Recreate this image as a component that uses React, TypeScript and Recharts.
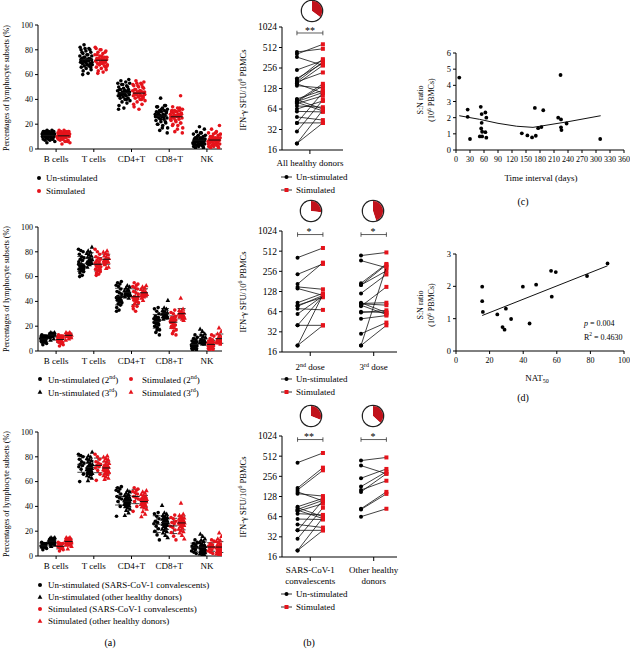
import React from 'react';
import { ScatterChart, Scatter, XAxis, YAxis, ErrorBar, ReferenceLine, PieChart, Pie, Cell } from 'recharts';

const FONT = '"Liberation Serif", "DejaVu Serif", serif';
const RED = '#e5131b';
const PIE_RED = '#c1121b';

// ---- (a) lymphocyte subsets, % ----
// index 0-11: SARS-CoV-1 convalescents, 12+: other healthy donors; 0-24: 2nd dose, 25+: 3rd dose
const subsets = ['B cells', 'T cells', 'CD4+T', 'CD8+T', 'NK'];

const bUn = [5, 6, 7, 7, 8, 8, 8, 9, 9, 10, 10, 11, 8, 9, 10, 10, 11, 11, 11, 12, 12, 12, 12, 12, 13, 13, 13, 13, 13, 14, 14, 14, 14, 15, 15, 12, 11, 10, 13, 12, 14, 9];
const bSt = [4, 5, 6, 7, 7, 8, 8, 9, 9, 10, 10, 11, 6, 8, 9, 10, 10, 11, 11, 11, 12, 12, 12, 12, 13, 13, 13, 13, 14, 14, 14, 15, 15, 12, 11, 10, 13, 12, 14, 9, 11, 12];
const tUn = [60, 66, 70, 72, 73, 74, 75, 76, 78, 80, 81, 82, 61, 63, 64, 65, 66, 67, 67, 68, 68, 69, 69, 70, 70, 71, 71, 72, 72, 73, 73, 74, 75, 76, 77, 78, 79, 80, 81, 84, 70, 68];
const tSt = [61, 66, 69, 71, 72, 73, 74, 75, 76, 78, 80, 82, 62, 63, 64, 65, 66, 67, 68, 68, 69, 69, 70, 70, 71, 71, 72, 72, 73, 73, 74, 75, 76, 77, 78, 79, 80, 81, 70, 68, 67, 72];
const cd4Un = [32, 40, 44, 46, 47, 48, 50, 52, 53, 54, 55, 56, 33, 35, 37, 38, 39, 40, 41, 41, 42, 43, 43, 44, 44, 45, 45, 46, 46, 47, 47, 48, 48, 49, 50, 51, 52, 53, 44, 43, 46, 45];
const cd4St = [36, 40, 44, 46, 47, 48, 50, 51, 52, 53, 55, 54, 32, 34, 36, 38, 39, 40, 41, 42, 42, 43, 43, 44, 44, 45, 45, 46, 46, 47, 47, 48, 49, 50, 51, 52, 53, 44, 43, 45, 41, 46];
const cd8Un = [13, 17, 20, 22, 24, 26, 27, 28, 30, 32, 34, 35, 15, 17, 19, 20, 21, 22, 23, 24, 25, 25, 26, 26, 27, 27, 28, 28, 29, 29, 30, 30, 31, 31, 32, 33, 34, 35, 41, 27, 26, 28];
const cd8St = [13, 16, 19, 21, 23, 24, 26, 27, 28, 30, 31, 33, 14, 17, 19, 20, 21, 22, 23, 24, 25, 25, 26, 26, 27, 27, 28, 28, 29, 29, 30, 30, 31, 31, 32, 33, 34, 43, 27, 26, 28, 25];
const nkUn = [2, 3, 4, 5, 6, 7, 7, 8, 9, 10, 11, 13, 1, 1, 2, 2, 3, 3, 4, 4, 4, 5, 5, 5, 6, 6, 6, 7, 7, 7, 8, 8, 9, 9, 10, 11, 12, 13, 14, 16, 18, 6];
const nkSt = [2, 3, 4, 5, 6, 7, 8, 8, 9, 10, 12, 13, 1, 1, 2, 2, 3, 3, 4, 4, 5, 5, 5, 6, 6, 6, 7, 7, 7, 8, 8, 9, 9, 10, 11, 12, 13, 14, 16, 19, 7, 6];

const unstimSets = [bUn, tUn, cd4Un, cd8Un, nkUn];
const stimSets = [bSt, tSt, cd4St, cd8St, nkSt];
const SARS_N = 12;
const DOSE2_N = 25;
const ALL_N = 42;

// ---- (b) IFN-γ SFU / 10^6 PBMCs, paired ----
const sarsUn = [410, 171, 160, 150, 141, 90, 87, 82, 80, 77, 71, 59, 49, 40, 40, 30, 20, 20];
const sarsSt = [571, 345, 315, 110, 130, 120, 64, 112, 60, 100, 68, 58, 44, 40, 112, 87, 62, 40];
const otherUn = [440, 370, 240, 180, 160, 150, 84, 82, 64];
const otherSt = [490, 280, 330, 300, 220, 280, 150, 140, 84];
const dose2Un = [410, 231, 165, 150, 142, 87, 80, 77, 71, 59, 40, 40, 20, 20];
const dose2St = [571, 330, 345, 138, 112, 120, 105, 112, 68, 110, 40, 110, 40, 115];
const dose3Un = [440, 370, 170, 160, 160, 120, 87, 85, 84, 80, 77, 64, 62, 50, 30, 20, 20];
const dose3St = [490, 290, 330, 320, 260, 230, 62, 87, 80, 58, 150, 62, 67, 56, 44, 300, 40];
const logTicks = [16, 32, 64, 128, 256, 512, 1024];

// pie fractions (responders)
const pieAll = [0.35];
const pieDose = [0.27, 0.45];
const pieCohort = [0.31, 0.37];

// ---- (c) S:N ratio vs time interval ----
const cDays = [7, 25, 25, 30, 53, 55, 55, 54, 56, 51, 56, 63, 65, 63, 65, 141, 153, 163, 169, 171, 176, 183, 187, 219, 224, 225, 225, 226, 237, 309];
const cRatio = [4.48, 2.5, 2.05, 0.68, 2.67, 2.22, 1.68, 1.33, 1.13, 0.84, 0.84, 2.32, 2.0, 1.1, 0.76, 1.03, 0.9, 0.78, 2.6, 0.88, 1.35, 1.42, 2.46, 2.0, 4.64, 1.89, 1.4, 1.23, 1.64, 0.68];
const cFitDays = [7, 50, 90, 130, 165, 240, 310];
const cFitRatio = [2.12, 1.9, 1.65, 1.47, 1.4, 1.75, 2.12];
const cDayTicks = [0, 30, 60, 90, 120, 150, 180, 210, 240, 270, 300, 330, 360];

// ---- (d) S:N ratio vs NAT50 ----
const dNat = [15.6, 15.6, 16, 24.6, 27.7, 28.9, 29.7, 32.8, 39.8, 43.8, 47.7, 56.6, 57, 59.4, 78, 90.2];
const dRatio = [1.99, 1.54, 1.21, 1.13, 0.74, 0.66, 1.31, 0.99, 1.99, 0.85, 2.05, 2.48, 1.68, 2.44, 2.32, 2.71];

// horizontal jitter offset in [-0.5, 0.5), low-discrepancy so neighbours spread apart
const jit = (i: number) => ((i * 0.6180339 + 0.37) % 1) - 0.5;

const tickStyle = (size: number) => ({ fontSize: size, fill: '#000', fontFamily: FONT });
const axisLine = { stroke: '#000', strokeWidth: 1 };

const dotShape = (fill: string, r = 1.8) => (p: any) => <circle cx={p.cx} cy={p.cy} r={r} fill={fill} />;
const triShape = (fill: string, s = 2.3) => (p: any) => (
  <path d={`M${p.cx},${p.cy - s}L${p.cx + s},${p.cy + s * 0.85}L${p.cx - s},${p.cy + s * 0.85}Z`} fill={fill} />
);
const meanShape = (half: number) => (p: any) => (
  <line x1={p.cx - half} x2={p.cx + half} y1={p.cy} y2={p.cy} stroke="#111" strokeWidth={1} />
);
const pairShape = (p: any) =>
  p.payload.kind === 'u' ? (
    <circle cx={p.cx} cy={p.cy} r={2} fill="#000" />
  ) : (
    <rect x={p.cx - 2} y={p.cy - 2} width={4} height={4} fill={RED} />
  );

type Group = { off: number; color: string; tri?: boolean; from: number; to: number; sets: number[][] };

function groupPoints(g: Group, spread: number) {
  const pts: { x: number; y: number }[] = [];
  g.sets.forEach((vals, k) => {
    vals.slice(g.from, g.to).forEach((v, i) => pts.push({ x: k + 1 + g.off + jit(i + 3 * k) * spread, y: v }));
  });
  return pts;
}

function groupStats(g: Group) {
  return g.sets.map((vals, k) => {
    const v = vals.slice(g.from, g.to);
    const m = v.reduce((s, a) => s + a, 0) / v.length;
    const sd = Math.sqrt(v.reduce((s, a) => s + (a - m) * (a - m), 0) / (v.length - 1));
    return { x: k + 1 + g.off, y: m, sd };
  });
}

function Txt({ x, y, children, size = 9, center = false, style }: any) {
  return (
    <div
      style={{
        position: 'absolute',
        left: x,
        top: y,
        transform: center ? 'translate(-50%, -50%)' : 'translateY(-50%)',
        fontSize: size,
        whiteSpace: 'nowrap',
        lineHeight: 1,
        ...style,
      }}
    >
      {children}
    </div>
  );
}

function YLabel({ x, y, children, size = 8 }: any) {
  return (
    <div
      style={{
        position: 'absolute',
        left: x,
        top: y,
        transform: 'translate(-50%, -50%) rotate(-90deg)',
        fontSize: size,
        whiteSpace: 'nowrap',
        lineHeight: 1.2,
        textAlign: 'center',
      }}
    >
      {children}
    </div>
  );
}

function DotPanel({ plotTop, groups, spread, sd, half }: { plotTop: number; groups: Group[]; spread: number; sd: boolean; half: number }) {
  const left = 12, right = 222, mt = 8, plotH = 124, xh = 22;
  return (
    <div style={{ position: 'absolute', left, top: plotTop - mt }}>
      <ScatterChart width={right - left + 4} height={mt + plotH + xh} margin={{ top: mt, right: 4, bottom: 0, left: 0 }}>
        <XAxis
          type="number"
          dataKey="x"
          domain={[0.52, 5.4]}
          ticks={[1, 2, 3, 4, 5]}
          interval={0}
          tickFormatter={(v: number) => subsets[Math.round(v) - 1]}
          tick={tickStyle(9)}
          tickLine={axisLine}
          axisLine={axisLine}
          tickSize={3}
          tickMargin={4}
          height={xh}
          allowDataOverflow
        />
        <YAxis
          type="number"
          dataKey="y"
          domain={[0, 100]}
          ticks={[0, 20, 40, 60, 80, 100]}
          interval={0}
          tick={tickStyle(8)}
          tickLine={axisLine}
          axisLine={axisLine}
          tickSize={3}
          width={26}
          allowDataOverflow
        />
        {groups.map((g, gi) => (
          <Scatter
            key={'p' + gi}
            data={groupPoints(g, spread)}
            shape={g.tri ? triShape(g.color) : dotShape(g.color)}
            isAnimationActive={false}
          />
        ))}
        {groups.map((g, gi) => (
          <Scatter key={'m' + gi} data={groupStats(g)} shape={meanShape(half)} isAnimationActive={false}>
            {sd && <ErrorBar dataKey="sd" direction="y" width={4} stroke="#111" strokeWidth={0.8} isAnimationActive={false} />}
          </Scatter>
        ))}
      </ScatterChart>
    </div>
  );
}

type PairSet = { u: number[]; s: number[] };

function PairPanel({
  plotTop,
  plotRight,
  plotH,
  domain,
  sets,
  labels,
  brackets,
  xh,
}: {
  plotTop: number;
  plotRight: number;
  plotH: number;
  domain: [number, number];
  sets: PairSet[];
  labels: (x: number, y: number, k: number) => React.ReactNode;
  brackets: number[];
  xh: number;
}) {
  const plotLeft = 282, yw = 28, mt = 8;
  const left = plotLeft - yw;
  const ticks = sets.map((_, k) => k + 1);
  const Tick = (p: any) => labels(p.x, p.y, Math.round(p.payload.value) - 1) as any;
  return (
    <div style={{ position: 'absolute', left, top: plotTop - mt }}>
      <ScatterChart width={plotRight - left + 4} height={mt + plotH + xh} margin={{ top: mt, right: 4, bottom: 0, left: 0 }}>
        <XAxis
          type="number"
          dataKey="x"
          domain={domain}
          ticks={ticks}
          interval={0}
          tick={Tick}
          tickLine={axisLine}
          axisLine={axisLine}
          tickSize={4}
          tickMargin={5}
          height={xh}
          allowDataOverflow
        />
        <YAxis
          type="number"
          dataKey="y"
          scale="log"
          domain={[16, 1024]}
          ticks={logTicks}
          interval={0}
          tick={tickStyle(9.5)}
          tickLine={axisLine}
          axisLine={axisLine}
          tickSize={3}
          width={yw}
          allowDataOverflow
        />
        {sets.map((set, k) =>
          set.u.map((u, i) => (
            <Scatter
              key={k + '-' + i}
              data={[
                { x: k + 1 - 0.2, y: u, kind: 'u' },
                { x: k + 1 + 0.2, y: set.s[i], kind: 's' },
              ]}
              line={{ stroke: '#111', strokeWidth: 0.8 }}
              shape={pairShape}
              isAnimationActive={false}
            />
          ))
        )}
        {sets.map((_, k) => {
          const b = brackets[k];
          const x0 = k + 1 - 0.2, x1 = k + 1 + 0.2;
          return [
            <ReferenceLine key={'h' + k} segment={[{ x: x0, y: b }, { x: x1, y: b }]} stroke="#333" strokeWidth={0.8} />,
            <ReferenceLine key={'l' + k} segment={[{ x: x0, y: b * 1.08 }, { x: x0, y: b / 1.08 }]} stroke="#333" strokeWidth={0.8} />,
            <ReferenceLine key={'r' + k} segment={[{ x: x1, y: b * 1.08 }, { x: x1, y: b / 1.08 }]} stroke="#333" strokeWidth={0.8} />,
          ];
        })}
      </ScatterChart>
    </div>
  );
}

function MiniPie({ cx, cy, frac }: { cx: number; cy: number; frac: number }) {
  const r = 10;
  return (
    <div style={{ position: 'absolute', left: cx - r, top: cy - r, width: 2 * r, height: 2 * r, borderRadius: '50%', boxShadow: '0 0 0 1.3px #222' }}>
      <PieChart width={2 * r} height={2 * r} margin={{ top: 0, right: 0, bottom: 0, left: 0 }}>
        <Pie
          data={[{ v: frac }, { v: 1 - frac }]}
          dataKey="v"
          cx={r}
          cy={r}
          outerRadius={r}
          startAngle={90}
          endAngle={-270}
          stroke="none"
          isAnimationActive={false}
        >
          <Cell fill={PIE_RED} />
          <Cell fill="#fff" />
        </Pie>
      </PieChart>
    </div>
  );
}

function PairLegend({ y }: { y: number }) {
  return (
    <>
      <svg style={{ position: 'absolute', left: 281, top: y - 4 }} width={12} height={22}>
        <line x1={0} x2={11} y1={4} y2={4} stroke="#000" strokeWidth={0.8} />
        <circle cx={5.5} cy={4} r={2} fill="#000" />
        <line x1={0} x2={11} y1={17} y2={17} stroke="#000" strokeWidth={0.8} />
        <rect x={3.5} y={15} width={4} height={4} fill={RED} />
      </svg>
      <Txt x={296} y={y}>Un-stimulated</Txt>
      <Txt x={296} y={y + 13}>Stimulated</Txt>
    </>
  );
}

function Marker({ x, y, color, tri }: { x: number; y: number; color: string; tri?: boolean }) {
  return (
    <svg style={{ position: 'absolute', left: x - 3, top: y - 3 }} width={6} height={6}>
      {tri ? <path d="M3,0.6L5.4,4.8L0.6,4.8Z" fill={color} /> : <circle cx={3} cy={3} r={2} fill={color} />}
    </svg>
  );
}

const plainTick = (lines: string[]) => (x: number, y: number, k: number) => (
  <text x={x} y={y} textAnchor="middle" fontSize={9} fontFamily={FONT} fill="#000">
    <tspan x={x} dy="0.8em">{lines[k]}</tspan>
  </text>
);

const doseNum = ['2', '3'];
const doseSup = ['nd', 'rd'];
const doseTick = (x: number, y: number, k: number) => (
  <text x={x} y={y} textAnchor="middle" fontSize={9} fontFamily={FONT} fill="#000">
    <tspan x={x} dy="1em">{doseNum[k]}</tspan>
    <tspan dy={-3} fontSize={6}>{doseSup[k]}</tspan>
    <tspan dy={3}> dose</tspan>
  </text>
);

const cohortLines = [
  ['SARS-CoV-1', 'convalescents'],
  ['Other healthy', 'donors'],
];
const cohortTick = (x: number, y: number, k: number) => (
  <text x={x} y={y} textAnchor="middle" fontSize={9} fontFamily={FONT} fill="#000">
    <tspan x={x} dy="0.8em">{cohortLines[k][0]}</tspan>
    <tspan x={x} dy="1.15em">{cohortLines[k][1]}</tspan>
  </text>
);

export default function App() {
  const cPts = cDays.map((d, i) => ({ x: d, y: cRatio[i] }));
  const cFit = cFitDays.map((d, i) => ({ x: d, y: cFitRatio[i] }));
  const dPts = dNat.map((n, i) => ({ x: n, y: dRatio[i] }));

  const a1: Group[] = [
    { off: -0.2, color: '#000', from: 0, to: ALL_N, sets: unstimSets },
    { off: 0.2, color: RED, from: 0, to: ALL_N, sets: stimSets },
  ];
  const a2: Group[] = [
    { off: -0.33, color: '#000', from: 0, to: DOSE2_N, sets: unstimSets },
    { off: -0.11, color: '#000', tri: true, from: DOSE2_N, to: ALL_N, sets: unstimSets },
    { off: 0.11, color: RED, from: 0, to: DOSE2_N, sets: stimSets },
    { off: 0.33, color: RED, tri: true, from: DOSE2_N, to: ALL_N, sets: stimSets },
  ];
  const a3: Group[] = [
    { off: -0.33, color: '#000', from: 0, to: SARS_N, sets: unstimSets },
    { off: -0.11, color: '#000', tri: true, from: SARS_N, to: ALL_N, sets: unstimSets },
    { off: 0.11, color: RED, from: 0, to: SARS_N, sets: stimSets },
    { off: 0.33, color: RED, tri: true, from: SARS_N, to: ALL_N, sets: stimSets },
  ];

  const scatterAxes = (xd: [number, number], xt: number[], yd: [number, number], yt: number[]) => [
    <XAxis
      key="x"
      type="number"
      dataKey="x"
      domain={xd}
      ticks={xt}
      interval={0}
      tick={tickStyle(8)}
      tickLine={axisLine}
      axisLine={axisLine}
      tickSize={3}
      tickMargin={3}
      height={20}
      allowDataOverflow
    />,
    <YAxis
      key="y"
      type="number"
      dataKey="y"
      domain={yd}
      ticks={yt}
      interval={0}
      tick={tickStyle(8.5)}
      tickLine={axisLine}
      axisLine={axisLine}
      tickSize={3}
      width={20}
      allowDataOverflow
    />,
  ];

  return (
    <div
      style={{
        position: 'absolute',
        left: 0,
        top: 0,
        width: 632,
        height: 649,
        background: '#fff',
        fontFamily: FONT,
        color: '#000',
        overflow: 'hidden',
      }}
    >
      {/* ---------- column (a) ---------- */}
      <DotPanel plotTop={25} groups={a1} spread={0.34} sd={false} half={6} />
      <YLabel x={7} y={88}>Percentages of lymphocyte subsets (%)</YLabel>
      <Marker x={39} y={178} color="#000" />
      <Txt x={46} y={178}>Un-stimulated</Txt>
      <Marker x={39} y={191} color={RED} />
      <Txt x={46} y={191}>Stimulated</Txt>

      <DotPanel plotTop={227} groups={a2} spread={0.16} sd half={4} />
      <YLabel x={7} y={289}>Percentages of lymphocyte subsets (%)</YLabel>
      <Marker x={40} y={379} color="#000" />
      <Txt x={48} y={379}>Un-stimulated (2<sup style={{ fontSize: 6 }}>nd</sup>)</Txt>
      <Marker x={40} y={392} color="#000" tri />
      <Txt x={48} y={392}>Un-stimulated (3<sup style={{ fontSize: 6 }}>rd</sup>)</Txt>
      <Marker x={131} y={379} color={RED} />
      <Txt x={142} y={379}>Stimulated (2<sup style={{ fontSize: 6 }}>nd</sup>)</Txt>
      <Marker x={131} y={392} color={RED} tri />
      <Txt x={142} y={392}>Stimulated (3<sup style={{ fontSize: 6 }}>rd</sup>)</Txt>

      <DotPanel plotTop={432} groups={a3} spread={0.16} sd half={4} />
      <YLabel x={7} y={494}>Percentages of lymphocyte subsets (%)</YLabel>
      <Marker x={40} y={585} color="#000" />
      <Txt x={48} y={585}>Un-stimulated (SARS-CoV-1 convalescents)</Txt>
      <Marker x={40} y={597} color="#000" tri />
      <Txt x={48} y={597}>Un-stimulated (other healthy donors)</Txt>
      <Marker x={40} y={609} color={RED} />
      <Txt x={48} y={609}>Stimulated (SARS-CoV-1 convalescents)</Txt>
      <Marker x={40} y={621} color={RED} tri />
      <Txt x={48} y={621}>Stimulated (other healthy donors)</Txt>
      <Txt x={110} y={643} size={10} center>(a)</Txt>

      {/* ---------- column (b) ---------- */}
      <MiniPie cx={312} cy={11} frac={pieAll[0]} />
      <PairPanel
        plotTop={27}
        plotRight={343}
        plotH={123}
        domain={[0.57, 1.51]}
        sets={[{ u: [...sarsUn, ...otherUn], s: [...sarsSt, ...otherSt] }]}
        labels={plainTick(['All healthy donors'])}
        brackets={[836]}
        xh={22}
      />
      <Txt x={310} y={31} size={10} center>**</Txt>
      <YLabel x={243} y={90} size={8.5}>IFN-γ SFU/10<sup style={{ fontSize: 6 }}>6</sup> PBMCs</YLabel>
      <PairLegend y={177} />

      <MiniPie cx={311} cy={211} frac={pieDose[0]} />
      <MiniPie cx={373} cy={211} frac={pieDose[1]} />
      <PairPanel
        plotTop={231}
        plotRight={397}
        plotH={121}
        domain={[0.555, 2.367]}
        sets={[
          { u: dose2Un, s: dose2St },
          { u: dose3Un, s: dose3St },
        ]}
        labels={doseTick}
        brackets={[906, 906]}
        xh={24}
      />
      <Txt x={309} y={232} size={10} center>*</Txt>
      <Txt x={373} y={232} size={10} center>*</Txt>
      <YLabel x={243} y={292} size={8.5}>IFN-γ SFU/10<sup style={{ fontSize: 6 }}>6</sup> PBMCs</YLabel>
      <PairLegend y={379} />

      <MiniPie cx={311} cy={416} frac={pieCohort[0]} />
      <MiniPie cx={373} cy={416} frac={pieCohort[1]} />
      <PairPanel
        plotTop={436}
        plotRight={397}
        plotH={121}
        domain={[0.555, 2.367]}
        sets={[
          { u: sarsUn, s: sarsSt },
          { u: otherUn, s: otherSt },
        ]}
        labels={cohortTick}
        brackets={[906, 906]}
        xh={30}
      />
      <Txt x={309} y={437} size={10} center>**</Txt>
      <Txt x={373} y={437} size={10} center>*</Txt>
      <YLabel x={243} y={497} size={8.5}>IFN-γ SFU/10<sup style={{ fontSize: 6 }}>6</sup> PBMCs</YLabel>
      <PairLegend y={594} />
      <Txt x={309} y={643} size={10} center>(b)</Txt>

      {/* ---------- (c) ---------- */}
      <div style={{ position: 'absolute', left: 436, top: 45 }}>
        <ScatterChart width={194} height={8 + 97 + 20} margin={{ top: 8, right: 6, bottom: 0, left: 0 }}>
          {scatterAxes([0, 360], cDayTicks, [0, 6], [0, 1, 2, 3, 4, 5, 6])}
          <Scatter data={cFit} line={{ stroke: '#111', strokeWidth: 1 }} shape={() => <g />} isAnimationActive={false} />
          <Scatter data={cPts} shape={dotShape('#000', 1.9)} isAnimationActive={false} />
        </ScatterChart>
      </div>
      <YLabel x={426} y={100} size={8}>
        S:N ratio
        <br />
        (10<sup style={{ fontSize: 5.5 }}>6</sup> PBMCs)
      </YLabel>
      <Txt x={541} y={178} center>Time interval (days)</Txt>
      <Txt x={523} y={202} size={10} center>(c)</Txt>

      {/* ---------- (d) ---------- */}
      <div style={{ position: 'absolute', left: 436, top: 246 }}>
        <ScatterChart width={194} height={8 + 97 + 20} margin={{ top: 8, right: 6, bottom: 0, left: 0 }}>
          {scatterAxes([0, 100], [0, 20, 40, 60, 80, 100], [0, 3], [0, 1, 2, 3])}
          <Scatter
            data={dPts}
            line={{ stroke: '#111', strokeWidth: 1 }}
            lineType="fitting"
            shape={dotShape('#000', 1.9)}
            isAnimationActive={false}
          />
        </ScatterChart>
      </div>
      <YLabel x={426} y={305} size={8}>
        S:N ratio
        <br />
        (10<sup style={{ fontSize: 5.5 }}>6</sup> PBMCs)
      </YLabel>
      <Txt x={584} y={324} size={8}>
        <i>p</i> = 0.004
      </Txt>
      <Txt x={584} y={337} size={8}>
        R<sup style={{ fontSize: 5.5 }}>2</sup> = 0.4630
      </Txt>
      <Txt x={537} y={379} center>
        NAT<sub style={{ fontSize: 6 }}>50</sub>
      </Txt>
      <Txt x={523} y={398} size={10} center>(d)</Txt>
    </div>
  );
}
